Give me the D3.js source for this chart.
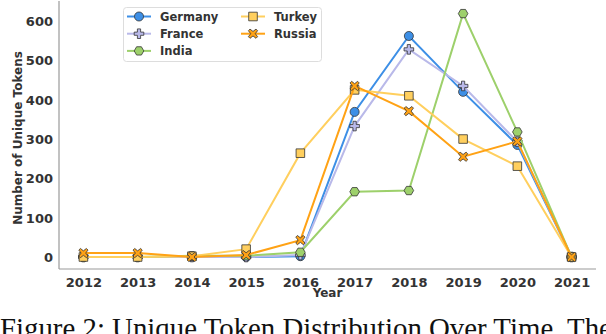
<!DOCTYPE html>
<html>
<head>
<meta charset="utf-8">
<script src="https://cdn.jsdelivr.net/npm/d3@7"></script>
<style>
  body { margin: 0; background: #fff; }
  svg { display: block; }
  .tick text { font-family: "DejaVu Sans", sans-serif; font-weight: bold; font-size: 13px; fill: #333; }
  .axis-title { font-family: "DejaVu Sans", sans-serif; font-weight: bold; font-size: 12px; fill: #333; }
  .legend text { font-family: "DejaVu Sans", sans-serif; font-weight: bold; font-size: 11.5px; fill: #333; }
  .caption { font-family: "Liberation Serif", "Times New Roman", serif; fill: #111; }
</style>
</head>
<body>
<svg width="606" height="334"></svg>
<script>
const years = [2012, 2013, 2014, 2015, 2016, 2017, 2018, 2019, 2020, 2021]
const yTicks = [0, 100, 200, 300, 400, 500, 600]

const germany = [0, 0, 0, 0, 2, 369, 562, 420, 285, 0]
const france = [0, 0, 0, 0, 5, 333, 528, 435, 293, 0]
const india = [0, 0, 3, 3, 12, 166, 169, 619, 318, 0]
const turkey = [0, 0, 2, 20, 264, 425, 410, 300, 231, 0]
const russia = [10, 10, 0, 5, 43, 435, 371, 255, 294, 0]

const seriesNames = ["Germany", "France", "India", "Turkey", "Russia"]
const seriesValues = [germany, france, india, turkey, russia]
const colors = ["#3d8fe6", "#b9b9e9", "#9dd06b", "#ffcf5e", "#ffa215"]
const markers = ["circle", "plus", "hexagon", "square", "cross"]

const svg = d3.select("svg")

const x = d3.scaleLinear()
    .domain([2011.55, 2021.45])
    .range([59, 596])

const y = d3.scaleLinear()
    .domain([-30.5, 651])
    .range([269, 1])

// spines
svg.append("line")
    .attr("x1", 59).attr("x2", 59)
    .attr("y1", 1).attr("y2", 269)
    .attr("stroke", "#999").attr("stroke-width", 1.2)
svg.append("line")
    .attr("x1", 59).attr("x2", 596)
    .attr("y1", 269).attr("y2", 269)
    .attr("stroke", "#999").attr("stroke-width", 1.2)

const xAxis = svg.append("g")
    .attr("transform", "translate(0, 269)")
    .call(d3.axisBottom(x).tickValues(years).tickFormat(d3.format("d")).tickSize(0).tickPadding(9))
xAxis.select(".domain").remove()

const yAxis = svg.append("g")
    .attr("transform", "translate(59, 0)")
    .call(d3.axisLeft(y).tickValues(yTicks).tickSize(0).tickPadding(6))
yAxis.select(".domain").remove()
yAxis.selectAll("text").attr("dy", "0.35em")

svg.append("text")
    .attr("class", "axis-title")
    .attr("x", 327.5)
    .attr("y", 297)
    .attr("text-anchor", "middle")
    .text("Year")

svg.append("text")
    .attr("class", "axis-title")
    .attr("transform", "translate(22, 138) rotate(-90)")
    .attr("text-anchor", "middle")
    .text("Number of Unique Tokens")

// marker shapes
const markerPath = (type) => {
    if (type === "circle") return d3.symbol(d3.symbolCircle, 64)()
    if (type === "square") return "M-4.3,-4.3H4.3V4.3H-4.3Z"
    if (type === "hexagon") {
        const r = 4.8
        return d3.range(6).map(i => {
            const a = Math.PI / 6 + i * Math.PI / 3
            return (i ? "L" : "M") + (r * Math.sin(a)).toFixed(2) + "," + (-r * Math.cos(a)).toFixed(2)
        }).join("") + "Z"
    }
    if (type === "plus") {
        const a = 1.6, b = 4.8
        return `M${-a},${-b}H${a}V${-a}H${b}V${a}H${a}V${b}H${-a}V${a}H${-b}V${-a}H${-a}Z`
    }
    // filled X
    const a = 1.6, b = 4.6
    return d3.line()([[0, -a * 1.41], [b - a, -b], [b, -b + a], [a * 1.41, 0], [b, b - a], [b - a, b],
        [0, a * 1.41], [-b + a, b], [-b, b - a], [-a * 1.41, 0], [-b, -b + a], [-b + a, -b]]) + "Z"
}

const lineGenerator = d3.line()
    .x((d, i) => x(years[i]))
    .y(d => y(d))

const series = svg.selectAll("g.series")
    .data(seriesValues)
    .enter()
    .append("g")
    .attr("class", "series")

series.append("path")
    .attr("d", d => lineGenerator(d))
    .attr("fill", "none")
    .attr("stroke", (d, i) => colors[i])
    .attr("stroke-width", 2)

series.each(function (vals, si) {
    d3.select(this).selectAll("path.mark")
        .data(vals)
        .enter()
        .append("path")
        .attr("class", "mark")
        .attr("transform", (d, i) => `translate(${x(years[i])}, ${y(d)})`)
        .attr("d", markerPath(markers[si]))
        .attr("fill", colors[si])
        .attr("stroke", "#333")
        .attr("stroke-width", 0.8)
})

// legend
const legend = svg.append("g").attr("class", "legend")
legend.append("rect")
    .attr("x", 123.5).attr("y", 7.5)
    .attr("width", 198).attr("height", 54)
    .attr("rx", 3)
    .attr("fill", "#fff").attr("fill-opacity", 0.85)
    .attr("stroke", "#ddd")

const items = legend.selectAll("g.item")
    .data(seriesNames)
    .enter()
    .append("g")
    .attr("class", "item")
    .attr("transform", (d, i) => `translate(${i < 3 ? 127 : 241}, ${16.5 + (i % 3) * 17.2})`)

items.append("line")
    .attr("x1", 0).attr("x2", 24)
    .attr("stroke", (d, i) => colors[i])
    .attr("stroke-width", 2)

items.append("path")
    .attr("transform", "translate(12, 0)")
    .attr("d", (d, i) => markerPath(markers[i]))
    .attr("fill", (d, i) => colors[i])
    .attr("stroke", "#333")
    .attr("stroke-width", 0.8)

items.append("text")
    .attr("x", 33)
    .attr("dy", "0.35em")
    .text(d => d)

// caption (cut off at the right edge)
const caption = svg.append("text")
    .attr("class", "caption")
    .attr("x", 0)
    .attr("y", 338)
    .style("font-size", "24px")
    .text("Figure 2: Unique Token Distribution Over Time. The")
const w = caption.node().getComputedTextLength()
caption.style("font-size", (24 * 612 / w).toFixed(2) + "px")
</script>
</body>
</html>
